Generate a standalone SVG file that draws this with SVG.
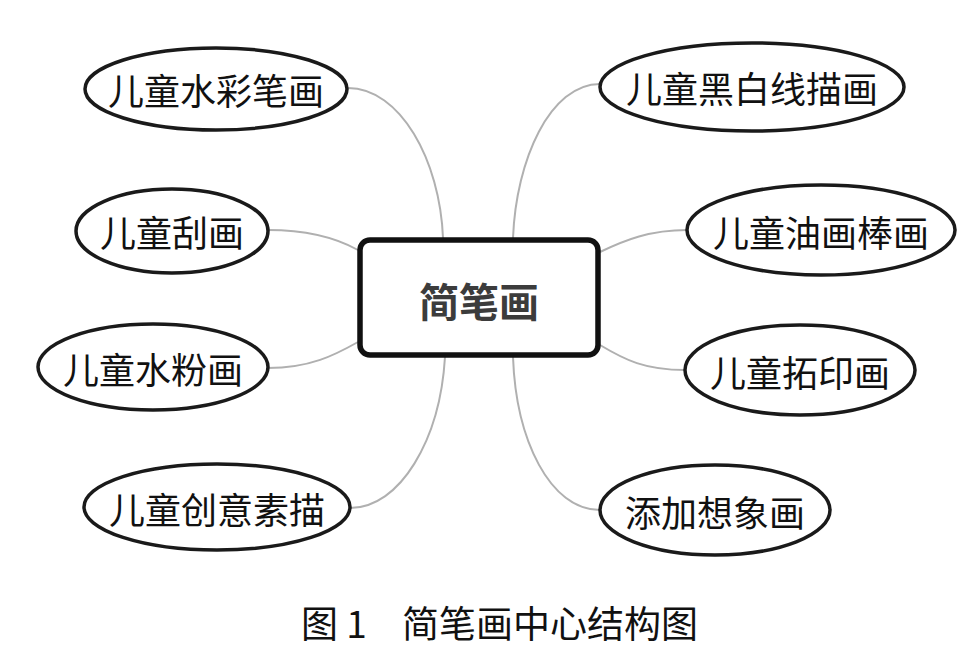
<svg xmlns="http://www.w3.org/2000/svg" width="979" height="652" viewBox="0 0 979 652">
<style>
.ell{fill:#fff;stroke:#1a1a1a;stroke-width:3.5}
.lbl{font-family:"Noto Sans CJK SC","Noto Sans CJK JP",sans-serif;font-size:36px;fill:#111;text-anchor:middle;dominant-baseline:central}
.con{fill:none;stroke:#b0b0b0;stroke-width:2}
.cap{font-family:"Noto Sans CJK SC",sans-serif;font-size:37px;fill:#111}
</style>
<rect width="979" height="652" fill="#fff"/>
<g id="connectors">
<path class="con" d="M348,88 C400,88 440,160 443,238"/>
<path class="con" d="M268,230 C310,230 340,240 358,250"/>
<path class="con" d="M268,368 C310,368 335,355 358,342"/>
<path class="con" d="M350,508 C400,508 440,440 445,357"/>
<path class="con" d="M600,84 C550,84 516,160 513,238"/>
<path class="con" d="M687,230 C650,230 625,240 600,252"/>
<path class="con" d="M685,370 C645,370 625,360 600,345"/>
<path class="con" d="M600,510 C550,510 516,440 513,357"/>
</g>
<g id="center">
<rect x="360" y="240" width="238" height="115" rx="10" fill="#fff" stroke="#111" stroke-width="5.5"/>
<text x="479" y="300" style="font-family:'Noto Sans CJK SC',sans-serif;font-size:40px;font-weight:bold;fill:#3c3c3c;text-anchor:middle;dominant-baseline:central">简笔画</text>
</g>
<g id="n1"><ellipse class="ell" cx="216" cy="89" rx="131" ry="41"/><text class="lbl" x="216" y="89">儿童水彩笔画</text></g>
<g id="n2"><ellipse class="ell" cx="172" cy="231" rx="96" ry="42"/><text class="lbl" x="172" y="231">儿童刮画</text></g>
<g id="n3"><ellipse class="ell" cx="153" cy="367" rx="115" ry="43"/><text class="lbl" x="153" y="368">儿童水粉画</text></g>
<g id="n4"><ellipse class="ell" cx="217" cy="507" rx="133" ry="43"/><text class="lbl" x="217" y="508">儿童创意素描</text></g>
<g id="n5"><ellipse class="ell" cx="752" cy="87" rx="152" ry="44"/><text class="lbl" x="752" y="87">儿童黑白线描画</text></g>
<g id="n6"><ellipse class="ell" cx="821" cy="230" rx="134" ry="45"/><text class="lbl" x="821" y="231">儿童油画棒画</text></g>
<g id="n7"><ellipse class="ell" cx="800" cy="370" rx="115" ry="45"/><text class="lbl" x="800" y="371">儿童拓印画</text></g>
<g id="n8"><ellipse class="ell" cx="715" cy="510" rx="115" ry="45"/><text class="lbl" x="715" y="511">添加想象画</text></g>
<text class="cap" y="638"><tspan x="301">图 1</tspan><tspan x="402">简笔画中心结构图</tspan></text>
</svg>
